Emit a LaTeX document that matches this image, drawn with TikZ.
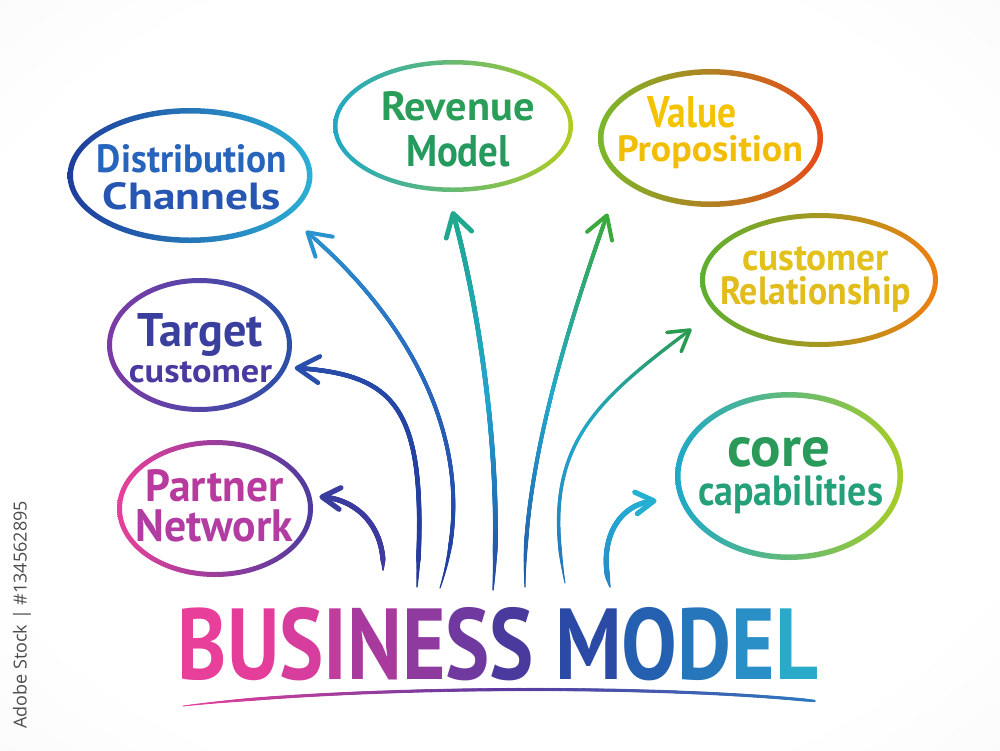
\documentclass[tikz,border=0pt]{standalone}
\usepackage{fontspec}
\usetikzlibrary{decorations.markings}
\newfontfamily\hand{PT Sans}
\newfontfamily\wmfont{Open Sans}
% text colours
\definecolor{tDist}{HTML}{2764BC}\definecolor{tChan}{HTML}{2656B2}
\definecolor{tRev}{HTML}{2A9E58}\definecolor{tMod}{HTML}{259A5E}
\definecolor{tVal}{HTML}{F3C300}\definecolor{tProp}{HTML}{F2BD05}
\definecolor{tCust}{HTML}{E2C21A}\definecolor{tRel}{HTML}{E2BC1A}
\definecolor{tCore}{HTML}{2A9A5A}\definecolor{tCap}{HTML}{26A07A}
\definecolor{tTarg}{HTML}{3A3F9E}\definecolor{tTcus}{HTML}{4A3AA0}
\definecolor{tPart}{HTML}{B83A9E}\definecolor{tNet}{HTML}{B23CA2}
% ring colours
\definecolor{rDistL}{HTML}{1F3C9C}\definecolor{rDistR}{HTML}{2BB0D4}
\definecolor{rRevL}{HTML}{1FA8C4}\definecolor{rRevM}{HTML}{27A050}\definecolor{rRevR}{HTML}{B0CC1E}
\definecolor{rValL}{HTML}{7AB82A}\definecolor{rValM}{HTML}{F6D400}\definecolor{rValR}{HTML}{E84A1A}
\definecolor{rCusL}{HTML}{5CB030}\definecolor{rCusM}{HTML}{F2D30C}\definecolor{rCusR}{HTML}{EF7F10}
\definecolor{rCorL}{HTML}{1FA8C8}\definecolor{rCorM}{HTML}{26A055}\definecolor{rCorR}{HTML}{A8CC25}
\definecolor{rTarL}{HTML}{7D3AA6}\definecolor{rTarR}{HTML}{2A50A8}
\definecolor{rParL}{HTML}{E8409A}\definecolor{rParR}{HTML}{4E3A9F}
% arrow colours
\definecolor{aAs}{HTML}{1F3A9C}\definecolor{aAm}{HTML}{2A66BB}\definecolor{aAt}{HTML}{2A92CF}
\definecolor{aBs}{HTML}{26399C}\definecolor{aBm}{HTML}{2443A2}\definecolor{aBt}{HTML}{2A4EAB}
\definecolor{aCs}{HTML}{403A9E}\definecolor{aCm}{HTML}{3C3A9E}\definecolor{aCt}{HTML}{3A3C9E}
\definecolor{aDs}{HTML}{2347A3}\definecolor{aDm}{HTML}{22A4CC}\definecolor{aDt}{HTML}{1FA88F}
\definecolor{aEs}{HTML}{2355AA}\definecolor{aEm}{HTML}{22A8CC}\definecolor{aEt}{HTML}{3AAA3C}
\definecolor{aFs}{HTML}{2572B8}\definecolor{aFm}{HTML}{22A8CC}\definecolor{aFt}{HTML}{2A9A50}
\definecolor{aGs}{HTML}{2A85C5}\definecolor{aGm}{HTML}{24A0D0}\definecolor{aGt}{HTML}{25B0D2}
\definecolor{uS}{HTML}{E8409A}\definecolor{uM}{HTML}{5A3AA0}\definecolor{uT}{HTML}{2A7CC0}
% title letters
\definecolor{b1}{HTML}{E8409A}\definecolor{b2}{HTML}{E43E9A}\definecolor{b3}{HTML}{D63D9C}
\definecolor{b4}{HTML}{C03C9D}\definecolor{b5}{HTML}{A83A9E}\definecolor{b6}{HTML}{8E3A9E}
\definecolor{b7}{HTML}{70399F}\definecolor{b8}{HTML}{4A3A9E}\definecolor{b9}{HTML}{2A4AA5}
\definecolor{b10}{HTML}{2560B0}\definecolor{b11}{HTML}{2676BB}\definecolor{b12}{HTML}{2A8FC6}
\definecolor{b13}{HTML}{28AAC8}
\definecolor{wm}{HTML}{4D4D4D}
\pgfdeclareradialshading{bgvig}{\pgfpoint{0bp}{0bp}}{color(0bp)=(white); color(28bp)=(white); color(72bp)=(black!9)}
\newcommand\gradmark[4]{%
  \pgfmathsetmacro\pp{100*(\pgfkeysvalueof{/pgf/decoration/mark info/distance from start}/\pgfdecoratedpathlength)}%
  \pgfmathsetmacro\rr{#4*min(1,min(0.3+\pp/15,0.45+(100-\pp)/8))}%
  \ifdim\pp pt<50pt
    \pgfmathsetmacro\qq{min(100,max(0,2*\pp))}\colorlet{gc}{#2!\qq!#1}%
  \else
    \pgfmathsetmacro\qq{min(100,max(0,2*\pp-100))}\colorlet{gc}{#3!\qq!#2}%
  \fi
  \fill[gc] (0,0) circle[radius=\rr pt];%
}
\tikzset{
  gradline/.style n args={4}{decorate, decoration={markings,
    mark=between positions 0 and 1 step 0.5pt with {\gradmark{#1}{#2}{#3}{#4}}}},
  headmark/.style n args={3}{decorate, decoration={markings,
    mark=at position 0.995 with {\draw[#1, line width=#2*2pt, line cap=round, line join=round] (-#3+1.5,0.6*#3) -- (1.5,0) -- (-#3+1.5,-0.6*#3);}}},
  lbl/.style={align=center, inner sep=0pt, anchor=north},
  ring/.style={even odd rule},
}
\newcommand\hw[3]{\resizebox{#1pt}{#2pt}{\hand\bfseries #3}}
\begin{document}
\begin{tikzpicture}[x=1pt,y=-1pt]
\useasboundingbox (0,0) rectangle (1000,750);
\shade[shading=bgvig] (0,0) rectangle (1000,750);

% watermark id
\node[rotate=90, font=\wmfont\fontsize{18}{20}\selectfont, text=wm, inner sep=0pt] (wmark) at (22,615) {Adobe Stock | \#134562895};

% rings
\shade[ring, left color=rDistL, right color=rDistR] (190,175.5) ellipse [x radius=122.5, y radius=67.5] (190,175.5) ellipse [x radius=117, y radius=62];
\shade[ring, left color=rRevL, middle color=rRevM, right color=rRevR] (453,126) ellipse [x radius=120, y radius=66] (453,126) ellipse [x radius=115.5, y radius=61.5];
\shade[ring, left color=rValL, middle color=rValM, right color=rValR] (710.5,138) ellipse [x radius=112.5, y radius=69] (710.5,138) ellipse [x radius=107, y radius=63.5];
\shade[ring, left color=rCusL, middle color=rCusM, right color=rCusR] (819,280) ellipse [x radius=119, y radius=67] (819,280) ellipse [x radius=114, y radius=62];
\shade[ring, left color=rCorL, middle color=rCorM, right color=rCorR] (789,476) ellipse [x radius=114, y radius=84] (789,476) ellipse [x radius=108.5, y radius=78.5];
\shade[ring, left color=rTarL, right color=rTarR] (199.5,345) ellipse [x radius=92.5, y radius=67] (199.5,345) ellipse [x radius=87.5, y radius=62];
\shade[ring, left color=rParL, right color=rParR] (215,508.5) ellipse [x radius=98, y radius=68.5] (215,508.5) ellipse [x radius=93, y radius=63.5];

% labels
\node[lbl, font=\fontsize{30}{37}\selectfont] (dist) at (192,144) {\hw{190}{28}{\color{tDist}Distribution}\\\hw{178}{27}{\color{tChan}Channels}};
\node[lbl, font=\fontsize{30}{46}\selectfont] (rev) at (458,91) {\hw{153}{29}{\color{tRev}Revenue}\\\hw{104}{31}{\color{tMod}Model}};
\node[lbl, font=\fontsize{30}{34}\selectfont] (val) at (710,96) {\makebox[125pt][l]{\hw{89}{31}{\color{tVal}Value}}\\\hw{186}{26}{\color{tProp}Proposition}};
\node[lbl, font=\fontsize{30}{34}\selectfont] (cust) at (815.5,246) {\hw{147}{24}{\color{tCust}customer}\\\hw{191}{28}{\color{tRel}Relationship}};
\node[lbl, font=\fontsize{30}{39}\selectfont] (core) at (790.5,437) {\makebox[127pt][l]{\hw{103}{29}{\color{tCore}core}}\\\hw{185}{30}{\color{tCap}capabilities}};
\node[lbl, font=\fontsize{30}{36}\selectfont] (targ) at (200.5,313) {\hw{125}{33}{\color{tTarg}Target}\\\hw{143}{21}{\color{tTcus}customer}};
\node[lbl, font=\fontsize{30}{40}\selectfont] (part) at (214.5,469) {\hw{138}{32}{\color{tPart}Partner}\\\hw{157}{32}{\color{tNet}Network}};

% title
\node[anchor=base, inner sep=0pt] (title) at (498,679) {\resizebox{640pt}{72pt}{\hand\bfseries\textcolor{b1}{B}\textcolor{b2}{U}\textcolor{b3}{S}\textcolor{b4}{I}\textcolor{b5}{N}\textcolor{b6}{E}\textcolor{b7}{S}\textcolor{b8}{S} \textcolor{b9}{M}\textcolor{b10}{O}\textcolor{b11}{D}\textcolor{b12}{E}\textcolor{b13}{L}}};
\coordinate (uStart) at (183,706);
\coordinate (uEnd) at (815,701);
\path[gradline={uS}{uM}{uT}{1.6}] (uStart) .. controls (350,686) and (650,684) .. (uEnd);

% arrows
\coordinate (sA) at (440,588); \coordinate (tA) at (307,232);
\coordinate (sB) at (417,587); \coordinate (tB) at (297,368);
\coordinate (sC) at (383,570); \coordinate (tC) at (323,497);
\coordinate (sD) at (493,590); \coordinate (tD) at (453,213);
\coordinate (sE) at (525,587); \coordinate (tE) at (607,215);
\coordinate (sF) at (565,583); \coordinate (tF) at (690,330);
\coordinate (sG) at (610,587); \coordinate (tG) at (653,501);
\path[gradline={aAs}{aAm}{aAt}{2.0}] (sA) .. controls (485,450) and (410,320) .. (tA);
\path[headmark={aAt}{2.0}{22}] (sA) .. controls (485,450) and (410,320) .. (tA);
\path[gradline={aBs}{aBm}{aBt}{2.3}] (sB) .. controls (428,410) and (400,375) .. (tB);
\path[headmark={aBt}{2.3}{22}] (sB) .. controls (428,410) and (400,375) .. (tB);
\path[gradline={aCs}{aCm}{aCt}{2.6}] (sC) .. controls (385,530) and (360,500) .. (tC);
\path[headmark={aCt}{2.6}{18}] (sC) .. controls (385,530) and (360,500) .. (tC);
\path[gradline={aDs}{aDm}{aDt}{2.4}] (sD) .. controls (503,470) and (480,310) .. (tD);
\path[headmark={aDt}{2.4}{22}] (sD) .. controls (503,470) and (480,310) .. (tD);
\path[gradline={aEs}{aEm}{aEt}{2.0}] (sE) .. controls (522,470) and (570,320) .. (tE);
\path[headmark={aEt}{2.0}{22}] (sE) .. controls (522,470) and (570,320) .. (tE);
\path[gradline={aFs}{aFm}{aFt}{1.8}] (sF) .. controls (540,450) and (590,405) .. (tF);
\path[headmark={aFt}{1.8}{20}] (sF) .. controls (540,450) and (590,405) .. (tF);
\path[gradline={aGs}{aGm}{aGt}{2.6}] (sG) .. controls (598,545) and (615,505) .. (tG);
\path[headmark={aGt}{2.6}{18}] (sG) .. controls (598,545) and (615,505) .. (tG);
\end{tikzpicture}
\end{document}
